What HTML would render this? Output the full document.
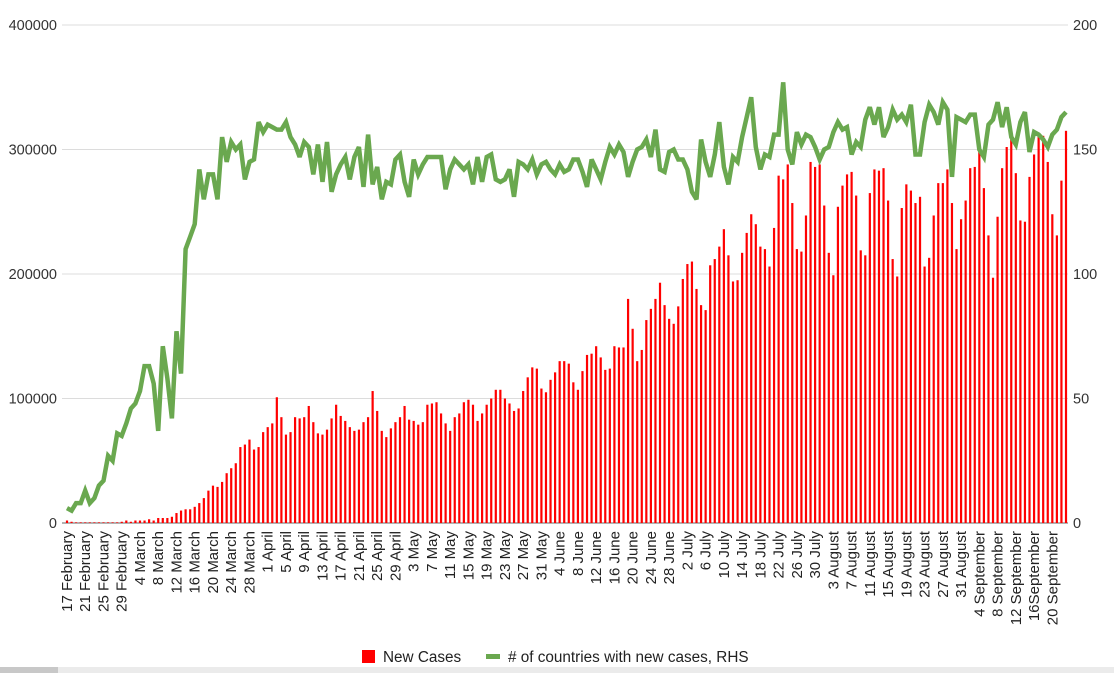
<!DOCTYPE html>
<html><head><meta charset="utf-8"><style>
html,body{margin:0;padding:0;background:#fff;}
svg{display:block;font-family:"Liberation Sans",Arial,sans-serif;}
</style></head><body>
<svg id="chart" width="1114" height="673" viewBox="0 0 1114 673">
<rect x="0" y="667" width="1114" height="6" fill="#ebebeb"/>
<rect x="0" y="667" width="58" height="6" fill="#c8c8c8"/>
<g id="grid"></g>
<g id="bars"></g>
<g id="line"></g>
<g id="axes"></g>
<g id="legend">
  <rect x="362" y="650" width="13" height="13" fill="#ff0000"/>
  <text x="383" y="662" font-size="15.3" fill="#222">New Cases</text>
  <line x1="486" y1="656.5" x2="500" y2="656.5" stroke="#6aa84f" stroke-width="5"/>
  <text x="508" y="662" font-size="15.3" fill="#222"># of countries with new cases, RHS</text>
</g>
</svg>
<script>
const newCases = [2,1,0.5,0.5,0.5,0.5,0.5,0.5,0.5,0.5,0.5,0.5,1,2,1,2,2,2,3,2,4,4,4,5,8,10,11,11,13,16,20,26,30,29,33,40,44,48,61,63,67,59,61,73,77,80,101,85,71,73,85,84,85,94,81,72,71,75,84,95,86,82,77,74,75,81,85,106,90,74,69,76,81,85,94,83,82,79,81,95,96,97,88,80,74,85,88,97,99,95,82,88,95,100,107,107,100,96,90,92,106,117,125,124,108,105,115,121,130,130,128,113,107,122,135,136,142,133,123,124,142,141,141,180,156,130,139,163,172,180,193,175,164,160,174,196,208,210,188,175,171,207,212,222,236,215,194,195,217,233,248,240,222,220,206,237,279,276,288,257,220,218,247,290,286,288,255,217,199,254,271,280,282,263,219,215,265,284,283,285,259,212,198,253,272,267,257,262,206,213,247,273,273,284,257,220,244,259,285,286,299,269,231,197,246,285,302,310,281,243,242,278,296,310,311,290,248,231,275,315];
const countries = [6,5,8,8,13,8,10,15,17,27,25,36,35,40,46,48,53,63,63,56,37,71,58,42,77,60,110,115,120,142,130,140,140,130,155,145,153,150,152,138,145,146,161,157,160,159,158,158,161,155,152,147,153,151,140,152,137,153,133,140,144,147,138,147,151,135,156,136,143,130,137,136,146,148,137,131,146,140,144,147,147,147,147,134,142,146,144,142,144,136,147,137,147,148,138,137,138,142,131,145,144,142,146,140,144,145,142,140,144,141,142,146,146,141,135,146,142,138,145,151,148,152,149,139,145,150,151,154,147,158,142,141,149,150,146,146,142,133,130,154,145,139,148,161,143,136,147,145,155,163,171,151,142,148,147,156,156,177,150,144,157,152,156,155,151,146,150,151,157,161,158,159,148,153,151,162,167,160,167,155,159,166,162,164,161,168,148,148,161,168,165,160,169,166,139,163,162,161,164,164,150,147,160,162,169,159,167,155,152,161,165,149,157,156,154,151,156,158,163,165];
const monthNames = ["February","March","April","May","June","July","August","September"];
const leftTicks = [0,100000,200000,300000,400000];
const rightTicks = [0,50,100,150,200];

const NS = "http://www.w3.org/2000/svg";
const X0 = 67, X1 = 1066, YB = 523, YT = 25;
const n = newCases.length;
function xs(i){ return X0 + (X1 - X0) * i / (n - 1); }
function yl(v){ return YB - (YB - YT) * v / 400000; }
function yr(v){ return YB - (YB - YT) * v / 200; }
function mk(tag, attrs, parent){ const e = document.createElementNS(NS, tag); for (const k in attrs) e.setAttribute(k, attrs[k]); parent.appendChild(e); return e; }

const grid = document.getElementById('grid');
leftTicks.forEach((t) => {
  const g = mk('line', {x1:62, x2:1068, y1:yl(t), y2:yl(t), stroke: t===0 ? '#999' : '#dcdcdc', 'stroke-width': t===0 ? 1.5 : 1}, grid);
  
  
});

const bars = document.getElementById('bars');
newCases.forEach((v, i) => {
  const h = YB - yl(v * 1000);
  const b = mk('rect', {x: xs(i) - 1.1, y: YB - h, width: 2.2, height: Math.max(h, 0), fill: '#ff0000'}, bars);
  
  
});

const lineG = document.getElementById('line');
const pts = countries.map((v, i) => xs(i).toFixed(1) + ',' + yr(v).toFixed(1)).join(' ');
const pl = mk('polyline', {points: pts, fill: 'none', stroke: '#6aa84f', 'stroke-width': 4.5, 'stroke-linejoin': 'miter', 'stroke-miterlimit': 3}, lineG);



const axes = document.getElementById('axes');
leftTicks.forEach((t) => {
  const tx = mk('text', {x: 57, y: yl(t) + 5, 'text-anchor': 'end', 'font-size': 14.5, fill: '#333'}, axes);
  tx.textContent = String(t);
  
  
});
rightTicks.forEach((t) => {
  const tx = mk('text', {x: 1073, y: yr(t) + 5, 'text-anchor': 'start', 'font-size': 14.5, fill: '#333'}, axes);
  tx.textContent = String(t);
  
  
});
const start = new Date(2020, 1, 17);
for (let i = 0; i < n; i += 4) {
  const d = new Date(start.getTime() + i * 86400000);
  const day = d.getDate();
  const mon = monthNames[d.getMonth() - 1];
  const label = (day === 16 && mon === 'September') ? '16September' : day + ' ' + mon;
  const x = xs(i) + 5;
  const tx = mk('text', {x: x, y: 531, 'text-anchor': 'end', 'font-size': 15, fill: '#222', transform: 'rotate(-90 ' + x + ' 531)'}, axes);
  tx.textContent = label;
  
  
}
</script>
</body></html>
